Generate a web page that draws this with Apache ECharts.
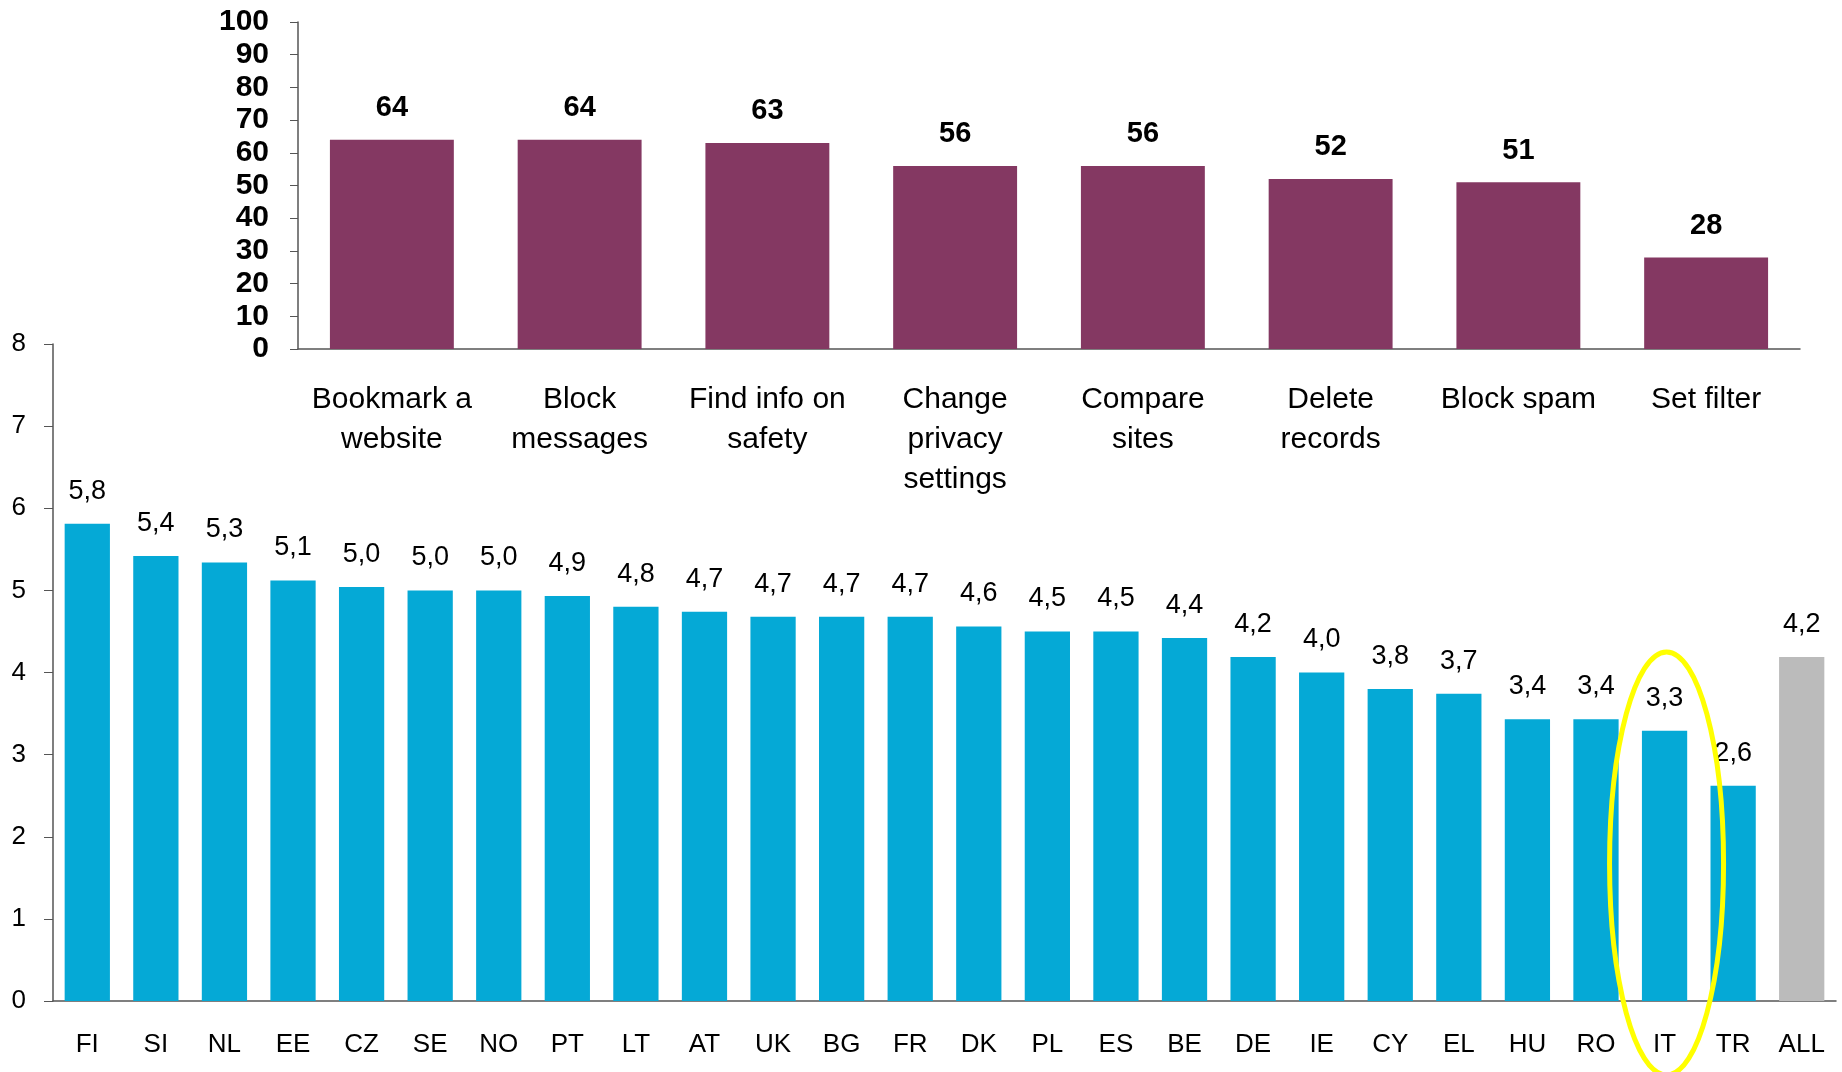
<!DOCTYPE html>
<html>
<head>
<meta charset="utf-8">
<script src="https://cdn.jsdelivr.net/npm/echarts@6/dist/echarts.min.js"></script>
<style>
  html, body { margin: 0; padding: 0; background: #fff; }
  #main { width: 1842px; height: 1072px; }
</style>
</head>
<body>
<div id="main"></div>
<script>
// top chart: skills (%)
const skillNames = ["Bookmark a\nwebsite", "Block\nmessages", "Find info on\nsafety", "Change\nprivacy\nsettings", "Compare\nsites", "Delete\nrecords", "Block spam", "Set filter"];
const skillValues = [64, 64, 63, 56, 56, 52, 51, 28];

// bottom chart: average number of skills per country
const countries = ["FI", "SI", "NL", "EE", "CZ", "SE", "NO", "PT", "LT", "AT", "UK", "BG", "FR", "DK", "PL", "ES", "BE", "DE", "IE", "CY", "EL", "HU", "RO", "IT", "TR", "ALL"];
const countryValues = [5.81, 5.42, 5.34, 5.12, 5.04, 5.0, 5.0, 4.93, 4.8, 4.74, 4.68, 4.68, 4.68, 4.56, 4.5, 4.5, 4.42, 4.19, 4.0, 3.8, 3.74, 3.43, 3.43, 3.29, 2.62, 4.19];

const narrow = "'Liberation Sans Narrow', 'Arial Narrow', 'Liberation Sans', sans-serif";
const regular = "'Liberation Sans', Arial, sans-serif";
const axisColor = "#555";

const chart = echarts.init(document.getElementById("main"));

const options = {
  animation: false,
  backgroundColor: "#fff",
  grid: [
    { left: 298, right: 42, top: 22, bottom: 723 },
    { left: 53, right: 6, top: 344, bottom: 71 },
  ],
  xAxis: [
    {
      gridIndex: 0,
      type: "category",
      data: skillNames,
      axisLine: { lineStyle: { color: axisColor, width: 1.5 } },
      axisTick: { length: 9, lineStyle: { color: axisColor } },
      axisLabel: {
        interval: 0,
        margin: 31,
        color: "#000",
        fontFamily: narrow,
        fontSize: 30,
        lineHeight: 40,
      },
    },
    {
      gridIndex: 1,
      type: "category",
      data: countries,
      axisLine: { lineStyle: { color: axisColor, width: 1.5 } },
      axisTick: { length: 10, lineStyle: { color: axisColor } },
      axisLabel: {
        interval: 0,
        margin: 31,
        color: "#000",
        fontFamily: regular,
        fontSize: 26,
      },
    },
  ],
  yAxis: [
    {
      gridIndex: 0,
      type: "value",
      min: 0,
      max: 100,
      interval: 10,
      splitLine: { show: false },
      axisLine: { show: true, lineStyle: { color: axisColor, width: 1.5 } },
      axisTick: { show: true, length: 8, lineStyle: { color: axisColor } },
      axisLabel: {
        margin: 29,
        color: "#000",
        fontFamily: narrow,
        fontWeight: "bold",
        fontSize: 30,
      },
    },
    {
      gridIndex: 1,
      type: "value",
      min: 0,
      max: 8,
      interval: 1,
      splitLine: { show: false },
      axisLine: { show: true, lineStyle: { color: axisColor, width: 1.5 } },
      axisTick: { show: true, length: 9, lineStyle: { color: axisColor } },
      axisLabel: {
        margin: 27,
        color: "#000",
        fontFamily: regular,
        fontSize: 26,
      },
    },
  ],
  series: [
    {
      type: "bar",
      xAxisIndex: 1,
      yAxisIndex: 1,
      data: countryValues,
      barCategoryGap: "34%",
      itemStyle: {
        color: (p) => (p.name === "ALL" ? "#BBBBBB" : "#05A9D6"),
      },
      label: {
        show: true,
        position: "top",
        distance: 19,
        color: "#000",
        fontFamily: regular,
        fontSize: 27,
        formatter: (p) => p.value.toFixed(1).replace(".", ","),
      },
    },
    {
      type: "bar",
      xAxisIndex: 0,
      yAxisIndex: 0,
      data: skillValues,
      barCategoryGap: "34%",
      itemStyle: { color: "#843862" },
      label: {
        show: true,
        position: "top",
        distance: 17,
        color: "#000",
        fontFamily: narrow,
        fontWeight: "bold",
        fontSize: 29,
      },
    },
  ],
};

chart.setOption(options);

// yellow ellipse around IT
const itX = chart.convertToPixel({ xAxisIndex: 1 }, "IT");
const yTop = chart.convertToPixel({ yAxisIndex: 1 }, 4.25);
const yZero = chart.convertToPixel({ yAxisIndex: 1 }, 0);
const yBot = yZero + 74;
chart.setOption({
  graphic: [
    {
      type: "ellipse",
      z: 100,
      shape: { cx: itX + 2, cy: (yTop + yBot) / 2, rx: 57, ry: (yBot - yTop) / 2 },
      style: { fill: null, stroke: "#FFFF00", lineWidth: 5 },
    },
  ],
});
</script>
</body>
</html>
